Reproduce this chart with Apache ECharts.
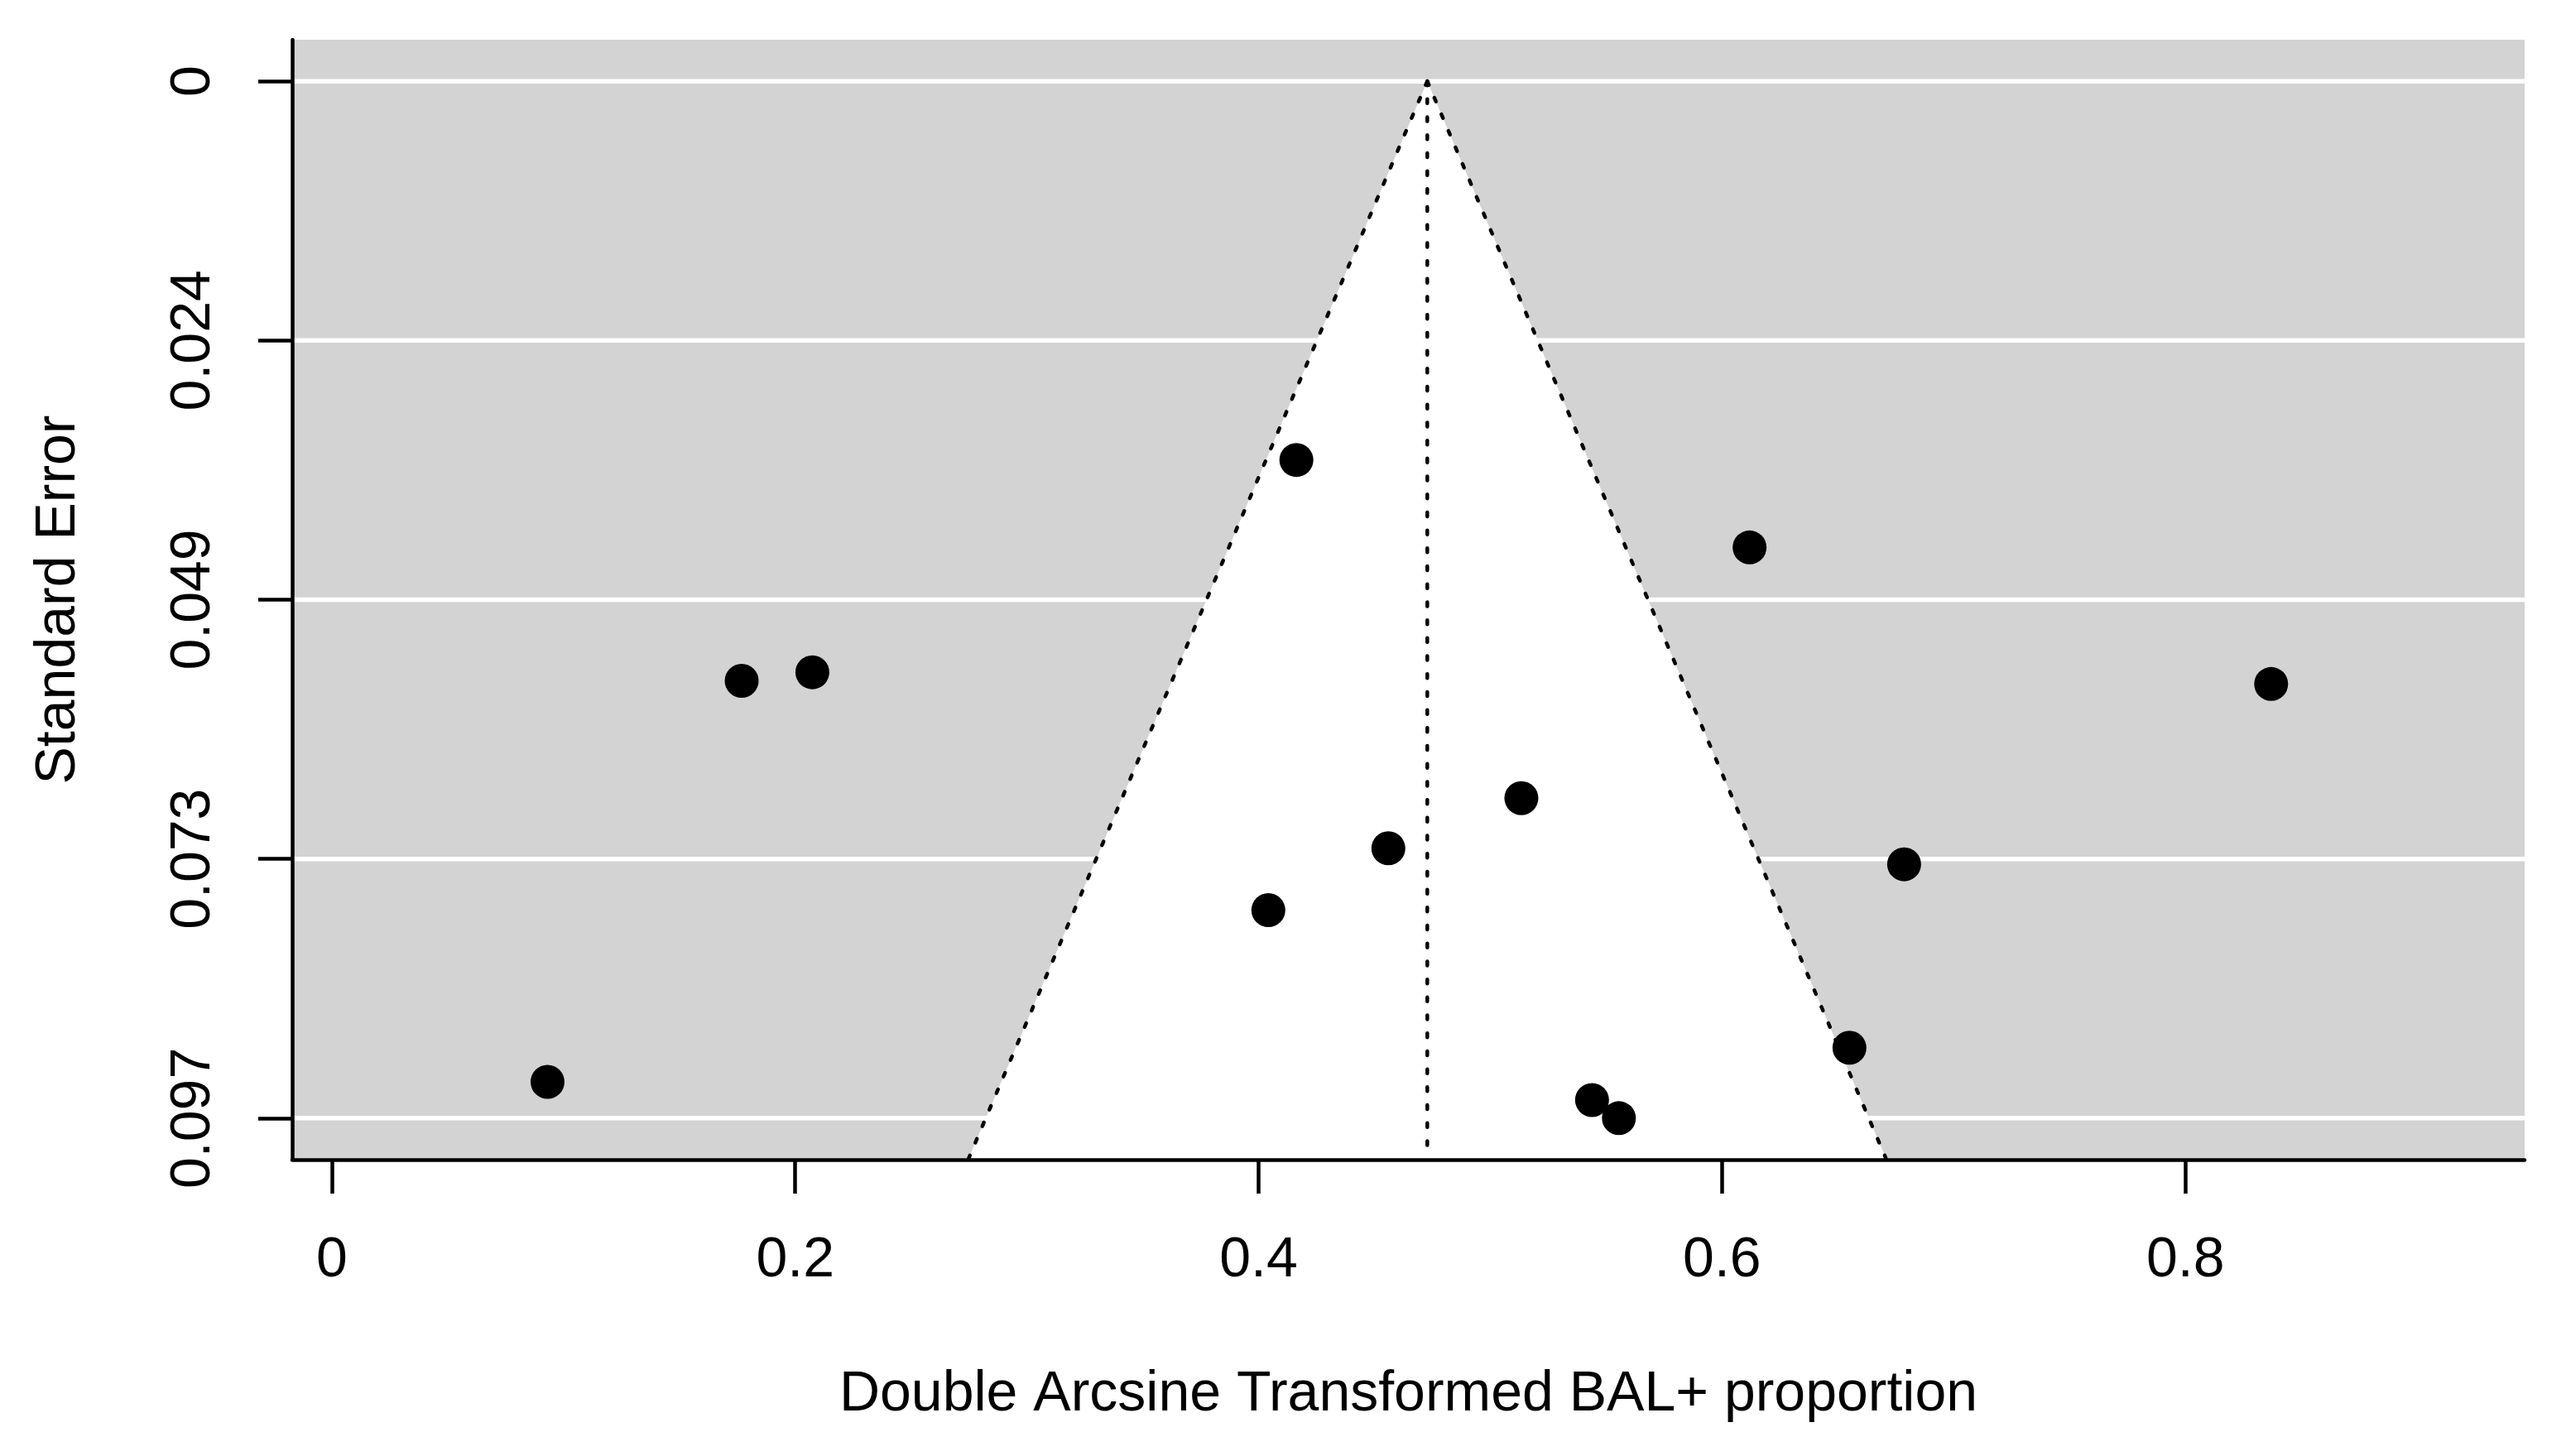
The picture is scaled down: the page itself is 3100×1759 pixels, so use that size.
<!DOCTYPE html>
<html>
<head>
<meta charset="utf-8">
<script src="https://cdn.jsdelivr.net/npm/echarts@6/dist/echarts.min.js"></script>
<style>
html,body{margin:0;padding:0;background:#fff;}
#chart{width:3100px;height:1759px;}
</style>
</head>
<body>
<div id="chart"></div>
<script>
// ---- data ----
const xTicks = [0, 0.2, 0.4, 0.6, 0.8];
const yTicks = [0, 0.0243, 0.0486, 0.0729, 0.0972];
const yTickLabels = ['0', '0.024', '0.049', '0.073', '0.097'];
const studyEstimate = [0.4163, 0.6119, 0.1769, 0.2074, 0.8370, 0.5134, 0.4560, 0.4042, 0.6786, 0.6550, 0.0931, 0.5439, 0.5555];
const studySE       = [0.0355, 0.0437, 0.0562, 0.0554, 0.0565, 0.0672, 0.0719, 0.0777, 0.0734, 0.0906, 0.0938, 0.0955, 0.0972];
const pooledEstimate = 0.4728;
const funnelSE    = [0, 0.1010];
const funnelLower = [0.4728, 0.2748];
const funnelUpper = [0.4728, 0.6708];
const xRange = [-0.0171, 0.9464];
const yRange = [-0.00389, 0.10109];

const FONT = '"Liberation Sans", Arial, sans-serif';
const FS = 68;
const chart = echarts.init(document.getElementById('chart'), null, {renderer: 'canvas'});

const dotted = {color: '#000', width: 4.5, type: [5, 16.7], cap: 'round'};

chart.setOption({
  animation: false,
  backgroundColor: '#ffffff',
  grid: {left: 353, top: 48, right: 50, bottom: 358, show: true, backgroundColor: '#d3d3d3', borderWidth: 0},
  xAxis: {
    type: 'value', min: xRange[0], max: xRange[1], z: 10,
    name: 'Double Arcsine Transformed BAL+ proportion',
    nameLocation: 'middle', nameGap: 250,
    nameTextStyle: {fontFamily: FONT, fontSize: FS, color: '#000'},
    axisLine: {show: true, onZero: false, lineStyle: {color: '#000', width: 4.5}},
    axisTick: {show: true, length: 41, inside: false, customValues: xTicks, lineStyle: {color: '#000', width: 4.5}},
    axisLabel: {customValues: xTicks, margin: 88, fontFamily: FONT, fontSize: FS, color: '#000',
      formatter: v => String(v)},
    splitLine: {show: false}
  },
  yAxis: {
    type: 'value', inverse: true, min: yRange[0], max: yRange[1], z: 10,
    name: 'Standard Error', nameLocation: 'middle', nameGap: 248, nameRotate: 90,
    nameTextStyle: {fontFamily: FONT, fontSize: FS, color: '#000'},
    axisLine: {show: true, onZero: false, lineStyle: {color: '#000', width: 4.5}},
    axisTick: {show: true, length: 41, inside: false, customValues: yTicks, lineStyle: {color: '#000', width: 4.5}},
    axisLabel: {customValues: yTicks, rotate: 90, margin: 85, fontFamily: FONT, fontSize: FS, color: '#000',
      formatter: v => {
        let best = 0;
        yTicks.forEach((t, i) => { if (Math.abs(t - v) < Math.abs(yTicks[best] - v)) best = i; });
        return yTickLabels[best];
      }},
    splitLine: {show: false}
  },
  series: [
    { // white horizontal grid lines
      type: 'custom', z: 1, silent: true,
      data: yTicks.map(v => [v]),
      renderItem: (params, api) => {
        const cs = params.coordSys;
        const p = api.coord([xRange[0], api.value(0)]);
        return {type: 'line', shape: {x1: cs.x, y1: p[1], x2: cs.x + cs.width, y2: p[1]},
          style: {stroke: '#ffffff', lineWidth: 5.5}};
      }
    },
    { // white funnel region
      type: 'custom', z: 2, silent: true,
      data: [[0]],
      renderItem: (params, api) => {
        const pts = [
          api.coord([funnelLower[1], funnelSE[1]]),
          api.coord([pooledEstimate, funnelSE[0]]),
          api.coord([funnelUpper[1], funnelSE[1]])
        ];
        return {type: 'polygon', shape: {points: pts}, style: {fill: '#ffffff'}};
      }
    },
    { // left funnel edge
      type: 'line', z: 3, silent: true, symbol: 'none',
      data: funnelSE.map((s, i) => [funnelLower[i], s]),
      lineStyle: dotted
    },
    { // right funnel edge
      type: 'line', z: 3, silent: true, symbol: 'none',
      data: funnelSE.map((s, i) => [funnelUpper[i], s]),
      lineStyle: dotted
    },
    { // vertical line at pooled estimate
      type: 'line', z: 3, silent: true, symbol: 'none',
      data: funnelSE.map(s => [pooledEstimate, s]),
      lineStyle: dotted
    },
    {
      type: 'scatter', z: 4, symbol: 'circle', symbolSize: 41,
      itemStyle: {color: '#000', opacity: 1},
      data: studyEstimate.map((e, i) => [e, studySE[i]])
    }
  ]
});
</script>
</body>
</html>
